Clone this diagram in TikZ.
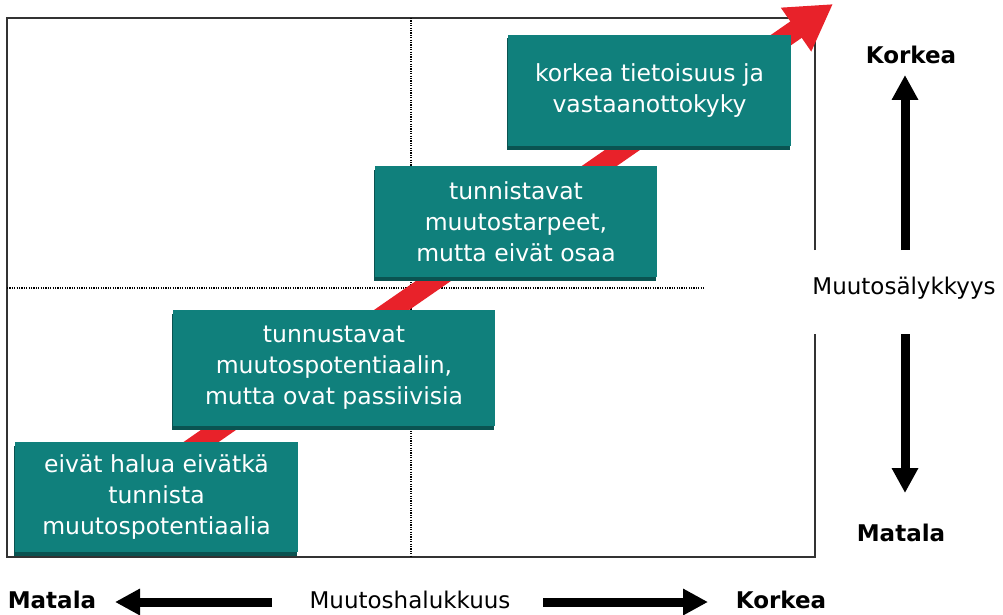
\documentclass[tikz,border=0pt]{standalone}
\usepackage{fontspec}
\setmainfont{DejaVu Sans}
\usetikzlibrary{arrows.meta,shadows}
\definecolor{tealbox}{HTML}{10807C}
\definecolor{tealdark}{HTML}{0A5351}
\definecolor{redarrow}{HTML}{E8222A}
\definecolor{framegray}{HTML}{333333}
\begin{document}
\begin{tikzpicture}[x=1pt,y=-1pt,
  stagebox/.style={fill=tealbox, text=white, align=center, inner sep=0pt,
    font=\fontsize{23.5}{31}\selectfont,
    general shadow={fill=tealdark, shadow xshift=-1.5pt, shadow yshift=-3.5pt}},
  axislabel/.style={font=\fontsize{23}{28}\selectfont, inner sep=0pt},
  boldlabel/.style={font=\fontsize{23}{28}\selectfont\bfseries, inner sep=0pt},
  framestyle/.style={draw=framegray, line width=1.5pt},
  dottedline/.style={draw=black, line width=1.8pt, dash pattern=on 1.2pt off 1.2pt},
  blackarrow/.style={draw=black, line width=9pt, -{Triangle[length=25pt,width=25pt]}},
]
\useasboundingbox (0,0) rectangle (1003,615);

% frame
\draw[framestyle] (815,250) -- (815,18) -- (7,18) -- (7,557) -- (815,557) -- (815,334);

% dotted quadrant lines
\draw[dottedline] (411,18) -- (411,557);
\draw[dottedline] (7,288) -- (705,288);

% red arrow
\coordinate (rs) at (178,458);
\coordinate (rt) at (833,4);
\draw[redarrow, line width=20pt, -{Triangle[length=45pt,width=50pt]}] (rs) -- (rt);

% boxes
\node[stagebox, minimum width=283pt, minimum height=110pt] (b1) at (156.5,497)
  {eivät halua eivätkä\\tunnista\\muutospotentiaalia};
\node[stagebox, minimum width=322pt, minimum height=116pt] (b2) at (334,368)
  {tunnustavat\\muutospotentiaalin,\\mutta ovat passiivisia};
\node[stagebox, minimum width=282pt, minimum height=111pt] (b3) at (516,221.5)
  {tunnistavat\\muutostarpeet,\\mutta eivät osaa};
\node[stagebox, minimum width=283pt, minimum height=111pt] (b4) at (649.5,90.5)
  {korkea tietoisuus ja\\vastaanottokyky};

% vertical axis
\node[boldlabel] (vhigh) at (911,55) {Korkea};
\node[axislabel] (vname) at (904,288) {Muutosälykkyys};
\node[boldlabel] (vlow) at (901,533) {Matala};
\coordinate (vup0) at (905,250);
\coordinate (vup1) at (905,75);
\coordinate (vdn0) at (905,334);
\coordinate (vdn1) at (905,493);
\draw[blackarrow] (vup0) -- (vup1);
\draw[blackarrow] (vdn0) -- (vdn1);

% horizontal axis
\node[boldlabel] (hlow) at (52,600) {Matala};
\node[axislabel] (hname) at (410,600) {Muutoshalukkuus};
\node[boldlabel] (hhigh) at (781,600) {Korkea};
\coordinate (hl0) at (272,602);
\coordinate (hl1) at (115,602);
\coordinate (hr0) at (543,602);
\coordinate (hr1) at (708,602);
\draw[blackarrow] (hl0) -- (hl1);
\draw[blackarrow] (hr0) -- (hr1);
\end{tikzpicture}
\end{document}
